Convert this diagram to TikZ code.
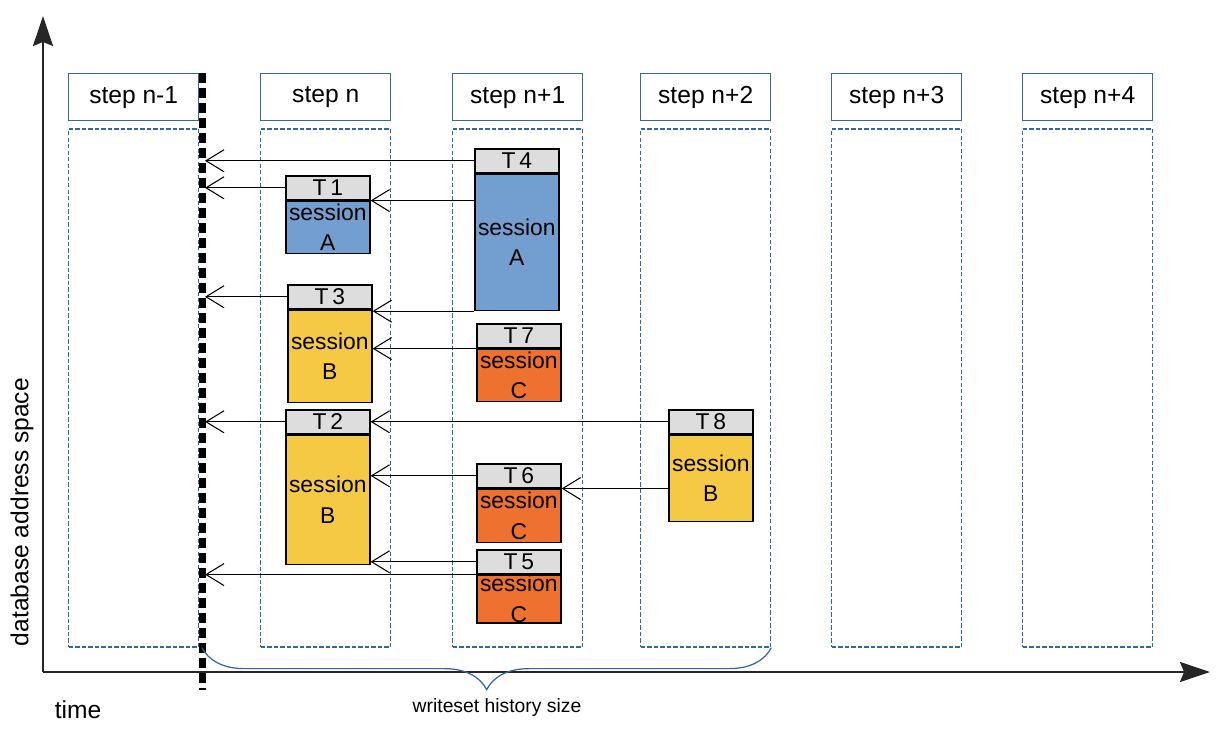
\documentclass[tikz,border=0pt]{standalone}
\usepackage{fontspec}
\setmainfont{Liberation Sans}
\usetikzlibrary{positioning,arrows.meta,decorations.pathreplacing,calc}
\definecolor{wsLine}{HTML}{3465A4}
\definecolor{wsSessA}{HTML}{729FCF}
\definecolor{wsSessB}{HTML}{F6C945}
\definecolor{wsSessC}{HTML}{EE7130}
\definecolor{wsHead}{HTML}{DDDDDD}
\newlength\pxunit
\setlength\pxunit{0.02cm}
\tikzset{
    wsStepHead/.style={
        rectangle,
        draw=wsLine,
        line width=0.8pt,
        fill=white,
        anchor=north west,
        minimum width=130\pxunit,
        minimum height=47\pxunit,
        inner sep=0pt,
        font=\fontsize{14}{16}\selectfont
    },
    wsStepCol/.style={
        rectangle,
        draw=wsLine,
        line width=0.7pt,
        dash pattern=on 2.5pt off 1.2pt,
        minimum width=130\pxunit,
        minimum height=518\pxunit,
        inner sep=0pt
    },
    % Transaction boxes
    wsTxHead/.style={
        rectangle,
        draw=black,
        line width=0.9pt,
        fill=wsHead,
        anchor=north west,
        minimum width=84\pxunit,
        minimum height=24\pxunit,
        inner sep=0pt,
        font=\fontsize{13}{15}\selectfont
    },
    wsTxBase/.style={
        rectangle,
        draw=black,
        line width=0.9pt,
        minimum width=84\pxunit,
        inner sep=0pt,
        align=center,
        font=\fontsize{13}{17.4}\selectfont
    },
    sessA/.style={wsTxBase, fill=wsSessA},
    sessB/.style={wsTxBase, fill=wsSessB},
    sessC/.style={wsTxBase, fill=wsSessC},
    % Arrows
    wsDep/.style={-{Straight Barb[length=0.36cm, width=0.44cm]}, line width=0.6pt},
    wsAxis/.style={-{Stealth[length=0.6cm, width=0.4cm, inset=0.08cm]}, line width=1.2pt, draw=black!85},
    wsCut/.style={line width=0.14cm, dash pattern=on 0.2cm off 0.1cm},
    wsBrace/.style={decorate, decoration={brace, mirror, amplitude=0.84cm}, draw=wsLine, line width=0.7pt}
}
\begin{document}
\begin{tikzpicture}[x=0.02cm, y=-0.02cm]
\useasboundingbox (0,0) rectangle (1226,732);

% axes
\coordinate (origin) at (43,672);
\coordinate (ytip) at (43,16);
\coordinate (xtip) at (1210,672);
\draw[wsAxis] (origin) -- (ytip);
\draw[wsAxis] (origin) -- (xtip);

% steps
\foreach \lbl/\xx [count=\i] in {step n-1/68, step n/260, step n+1/452, step n+2/640, step n+3/831, step n+4/1022} {
    \node[wsStepHead] (head\i) at (\xx,73) {\lbl};
    \node[wsStepCol, below=7\pxunit of head\i] (col\i) {};
}

% cut line
\coordinate (cuttop) at (202,73);
\coordinate (cutbot) at (202,690);
\coordinate (cut) at (205,73);
\draw[wsCut] (cuttop) -- (cutbot);

% transactions
\node[wsTxHead] (t4h) at (474,148) {T\,4};
\node[sessA, below=0pt of t4h, minimum height=136\pxunit] (t4) {session\\A};
\node[wsTxHead] (t1h) at (285,175) {T\,1};
\node[sessA, below=0pt of t1h, minimum height=52\pxunit] (t1) {session\\A};
\node[wsTxHead] (t3h) at (287,284) {T\,3};
\node[sessB, below=0pt of t3h, minimum height=92\pxunit] (t3) {session\\B};
\node[wsTxHead] (t7h) at (476,323) {T\,7};
\node[sessC, below=0pt of t7h, minimum height=52\pxunit] (t7) {session\\C};
\node[wsTxHead] (t2h) at (285,409) {T\,2};
\node[sessB, below=0pt of t2h, minimum height=129\pxunit] (t2) {session\\B};
\node[wsTxHead] (t6h) at (476,463) {T\,6};
\node[sessC, below=0pt of t6h, minimum height=53\pxunit] (t6) {session\\C};
\node[wsTxHead] (t8h) at (668,409) {T\,8};
\node[sessB, below=0pt of t8h, minimum height=86\pxunit] (t8) {session\\B};
\node[wsTxHead] (t5h) at (476,549) {T\,5};
\node[sessC, below=0pt of t5h, minimum height=47\pxunit] (t5) {session\\C};

% dependencies
\draw[wsDep] (t4h.west) -- (t4h.west -| cut);
\draw[wsDep] (t1h.west) -- (t1h.west -| cut);
\draw[wsDep] (t4.west |- t1h.south) -- (t1h.south east);
\draw[wsDep] (t3h.west) -- (t3h.west -| cut);
\draw[wsDep] (t4.south west) -- (t4.south west -| t3h.east);
\draw[wsDep] (t7h.south west) -- (t7h.south west -| t3.east);
\draw[wsDep] (t2h.west) -- (t2h.west -| cut);
\draw[wsDep] (t8h.west) -- (t2h.east);
\draw[wsDep] (t6h.west) -- (t6h.west -| t2.east);
\draw[wsDep] (t8.west |- t6h.south) -- (t6h.south east);
\draw[wsDep] (t5h.west) -- (t5h.west -| t2.east);
\draw[wsDep] (t5h.south west) -- (t5h.south west -| cut);

% history brace
\draw[wsBrace] (cuttop |- col1.south) -- (col4.south east);
\node[font=\fontsize{11}{13}\selectfont] (wslbl) at (497,707) {writeset history size};

% labels
\node[font=\fontsize{14}{16}\selectfont] (timelbl) at (78,710) {time};
\node[rotate=90, font=\fontsize{14}{16}\selectfont] (addrlbl) at (22,512) {database address space};
\end{tikzpicture}
\end{document}
